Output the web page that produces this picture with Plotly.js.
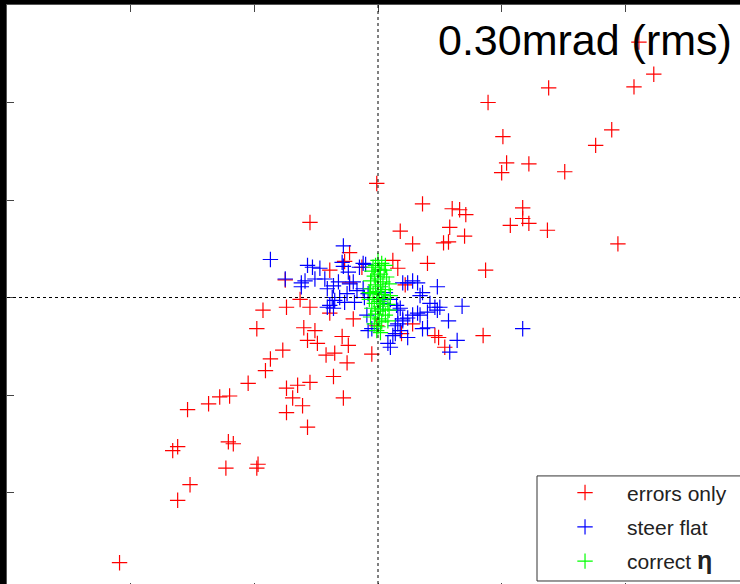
<!DOCTYPE html>
<html>
<head>
<meta charset="utf-8">
<script src="https://cdn.plot.ly/plotly-3.0.1.min.js"></script>
<style>
  html, body { margin: 0; padding: 0; background: #fff; overflow: hidden; }
  #chart { width: 760px; height: 600px; }
</style>
</head>
<body>
<div id="chart"></div>
<script>
// Orbit offsets at the end point, one point per seed (x, y in mm-like units)
const errorsX = [2.11, 2.23, 2.07, 1.38, 0.89, 1.89, 1.76, 1.01, 1.04, 1.00, 1.22, 1.51, 1.17, 1.17, 1.07, 1.22, 1.37, 1.94, 0.87, 0.85,
  0.36, 0.60, 0.66, 0.71, 0.58, 0.70, 0.18, 0.28, 0.53, 0.57, 0.40, 0.12, 0.16, 0.22, -0.01, 0.49, 0.28, 0.19, 0.54, -0.01, 0.46,
  -0.55, -0.23, -0.27, -0.13, -0.75, -0.23, -0.39, -0.63,
  -0.93, -0.74, -0.55, -0.39, -0.20, -0.98, -0.60, -0.51, -0.57, -0.49, -0.29, -0.24, -0.77, -0.87, -0.91, -0.42, -0.35, -0.25, -0.05,
  -0.36, -1.05, -0.55, -0.65, -0.74, -0.69, -0.61, -0.28, -0.74, -0.57, -1.54, -1.37, -1.28, -1.20, -1.66, -1.62, -1.21, -1.17, -1.23,
  -0.98, -0.97, -1.52, -1.62, -2.09];
const errorsY = [2.62, 2.29, 2.16, 2.15, 2.00, 1.72, 1.56, 1.65, 1.38, 1.28, 1.37, 1.29, 0.92, 0.81, 0.74, 0.76, 0.69, 0.55, 0.28, -0.39,
  0.96, 0.91, 0.90, 0.85, 0.72, 0.63, 0.68, 0.55, 0.56, 0.57, 0.35, 0.38, 0.30, 0.13, 1.17, -0.41, -0.27, -0.37, -0.51, -0.29, -0.39,
  0.77, 0.46, 0.37, 0.31, 0.18, 0.15, 0.28, -0.02,
  -0.13, -0.10, -0.10, -0.16, -0.22, -0.32, -0.31, -0.34, -0.44, -0.47, -0.40, -0.49, -0.54, -0.63, -0.75, -0.59, -0.57, -0.67, -0.58,
  -0.81, -0.88, -0.87, -0.90, -0.93, -1.03, -1.11, -1.03, -1.18, -1.33, -1.15, -1.09, -1.02, -1.01, -1.57, -1.53, -1.48, -1.50, -1.75,
  -1.75, -1.71, -1.92, -2.08, -2.72];

const steerX = [-0.87, -0.28, -0.29, -0.12, -0.57, -0.47, -0.53, -0.75, -0.62, -0.59, -0.51, -0.43, -0.41, -0.36, -0.32, -0.23, -0.20,
  -0.24, -0.28, -0.15, -0.10, -0.62, -0.37, -0.31, -0.25, -0.35, -0.39, -0.36, -0.27, -0.19, -0.41, -0.17, -0.12, -0.11, -0.08, -0.09,
  -0.05, -0.08,
  0.20, 0.24, 0.28, 0.32, 0.48, 0.34, 0.36, 0.42, 0.46, 0.48, 0.50, 0.68, 0.16, 0.15, 0.18, 0.20, 0.24, 0.28, 0.32, 0.34, 0.40, 0.57,
  0.16, 0.20, 0.36, 0.40, 0.14, 0.18, 0.14, 0.12, 0.24, 0.08, 0.10, 0.64, 0.58, 1.17, 0.06, 0.10, 0.04];
const steerY = [0.39, 0.53, 0.36, 0.35, 0.33, 0.30, 0.31, 0.19, 0.15, 0.17, 0.19, 0.19, 0.09, 0.12, 0.16, 0.14, 0.16,
  0.26, 0.32, 0.31, 0.34, 0.11, 0.00, 0.00, 0.04, -0.03, -0.08, -0.11, -0.05, -0.05, -0.10, 0.07, 0.09, 0.00, 0.04, -0.18,
  -0.32, -0.34,
  0.15, 0.15, 0.17, 0.15, 0.11, 0.02, 0.05, -0.06, -0.10, -0.13, -0.10, -0.09, -0.13, -0.08, -0.11, -0.22, -0.21, -0.18, -0.16, -0.18, -0.15, -0.24,
  -0.27, -0.24, -0.32, -0.31, -0.29, -0.34, -0.37, -0.39, -0.41, -0.47, -0.51, -0.44, -0.56, -0.32, 0.05, -0.02, -0.06];

const etaX = [0.00, -0.02, 0.03, 0.01, -0.05, 0.05, 0.02, -0.03, 0.07, 0.00, -0.06, 0.04, 0.09, -0.02, 0.02, -0.06, 0.06, 0.00,
  -0.04, 0.03, 0.10, -0.01, 0.05, -0.07, 0.01, -0.03, 0.08, 0.02, -0.05, 0.04, 0.00, -0.02, 0.06, -0.06, 0.01, 0.03, -0.03, 0.08,
  0.00, -0.01, 0.02, -0.07, 0.09, -0.04, 0.06];
const etaY = [0.38, 0.33, 0.35, 0.29, 0.27, 0.28, 0.24, 0.22, 0.21, 0.19, 0.17, 0.16, 0.14, 0.13, 0.11, 0.09, 0.08, 0.06,
  0.04, 0.03, 0.02, 0.00, -0.01, -0.02, -0.04, -0.06, -0.07, -0.09, -0.11, -0.12, -0.14, -0.17, -0.18, -0.20, -0.22, -0.25, -0.27, -0.24,
  -0.30, -0.34, -0.36, 0.05, -0.13, 0.31, 0.33];

const seriesNames = ['errors only', 'steer flat', 'correct <span style="font-size:25px"><b>η</b></span>'];
const seriesColors = ['#ff0000', '#0000ff', '#00ff00'];
const axisRange = [-3, 3];
const tickValues = [-3, -2, -1, 0, 1, 2, 3];

function crossTrace(x, y, i) {
  return {
    type: 'scatter', mode: 'markers', x: x, y: y,
    name: seriesNames[i], legendgroup: 'g' + i,
    marker: { symbol: 'cross-thin', size: 11, color: seriesColors[i],
              line: { color: seriesColors[i], width: 1.2 } },
    hoverinfo: 'skip'
  };
}

const traces = [
  crossTrace(errorsX, errorsY, 0),
  crossTrace(steerX, steerY, 1),
  crossTrace(etaX, etaY, 2)
];

const axisCommon = {
  range: axisRange, tickvals: tickValues, showticklabels: false,
  ticks: 'inside', ticklen: 7, tickwidth: 1, tickcolor: '#444',
  showline: true, linecolor: '#555', linewidth: 1, mirror: 'ticks',
  showgrid: false, zeroline: false, fixedrange: true
};

const layout = {
  width: 760, height: 600,
  margin: { l: 7, r: 11, t: 5, b: 10 },
  paper_bgcolor: '#000', plot_bgcolor: '#fff',
  xaxis: Object.assign({}, axisCommon),
  yaxis: Object.assign({}, axisCommon),
  showlegend: true,
  legend: {
    x: 0.7224, y: 0.201, xanchor: 'left', yanchor: 'top',
    bgcolor: 'rgba(0,0,0,0)', borderwidth: 0,
    font: { family: 'Liberation Sans, Arial, sans-serif', size: 21, color: '#222' },
    tracegroupgap: 4, itemwidth: 74
  },
  shapes: [
    // dashed reference lines through the origin
    { type: 'line', xref: 'x', yref: 'paper', x0: 0, x1: 0, y0: 0, y1: 1,
      line: { color: '#000', width: 1, dash: '3px,3px' }, layer: 'above' },
    { type: 'line', xref: 'paper', yref: 'y', x0: 0, x1: 1, y0: 0, y1: 0,
      line: { color: '#000', width: 1, dash: '3px,3px' }, layer: 'above' },
    // legend frame
    { type: 'rect', xref: 'paper', yref: 'paper', x0: 0.7143, x1: 1.1, y0: 0.0154, y1: 0.195,
      fillcolor: '#fff', line: { color: '#333', width: 1 }, layer: 'above' }
  ],
  annotations: [
    { text: '0.30mrad (rms)', xref: 'paper', yref: 'paper', x: 0.980, y: 0.940,
      xanchor: 'right', yanchor: 'middle', showarrow: false,
      font: { family: 'Liberation Sans, Arial, sans-serif', size: 43, color: '#000' } }
  ]
};

Plotly.newPlot('chart', traces, layout, { displayModeBar: false, staticPlot: true });
</script>
</body>
</html>
